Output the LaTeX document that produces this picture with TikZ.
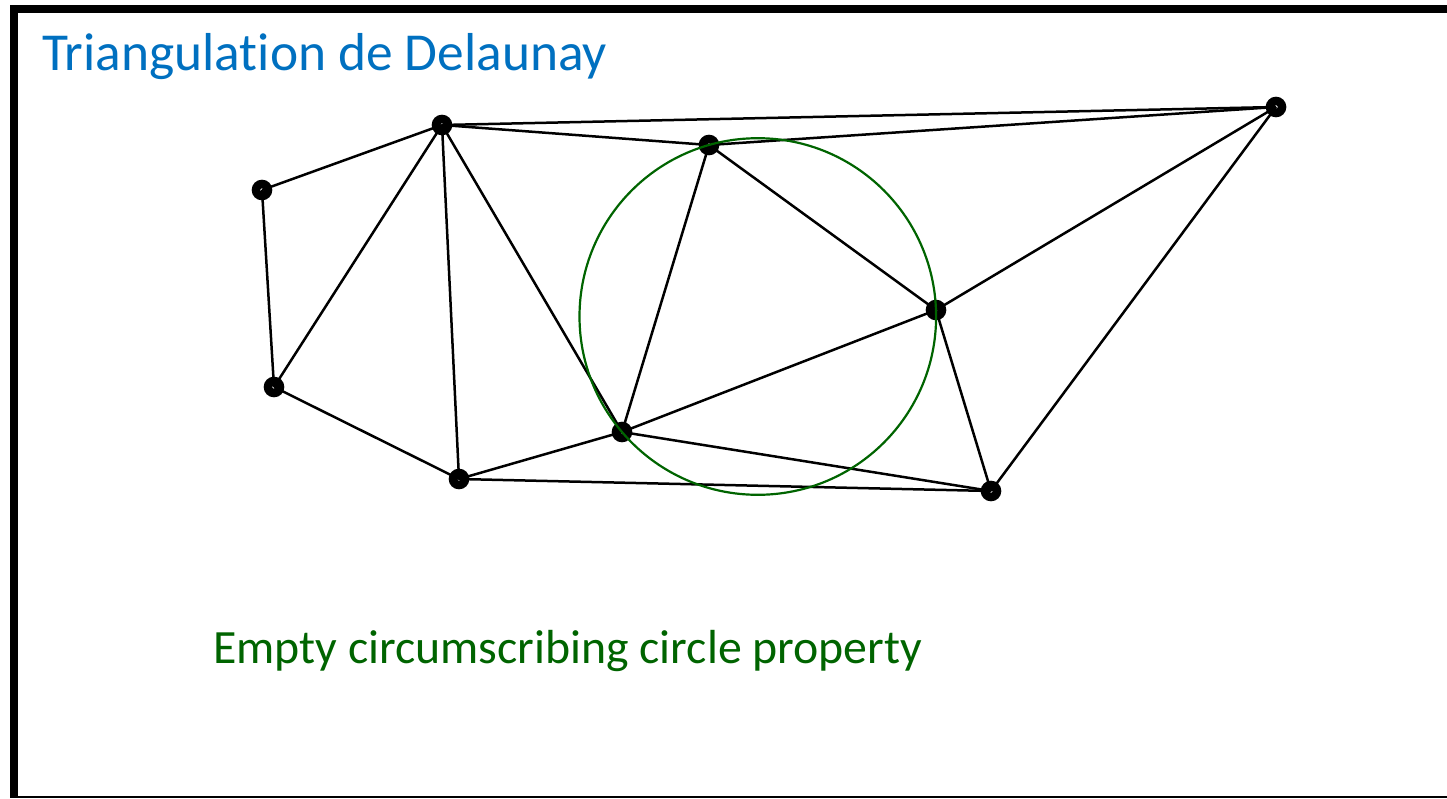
\documentclass[tikz,border=0pt]{standalone}
\usepackage{fontspec}
\setmainfont{Carlito}[Ligatures=NoCommon]
\usepackage{xcolor}
\usepackage{tikz}
\usetikzlibrary{positioning}
\definecolor{titleblue}{RGB}{0,112,192}
\definecolor{circgreen}{RGB}{0,100,0}

\begin{document}
\begin{tikzpicture}[
    x=1pt, y=-1pt,
    pt/.style={circle, draw, line width=8.5pt, minimum size=12pt, inner sep=0pt},
    edge/.style={line width=2.5pt},
    frame/.style={fill=black, draw=none}
]
\useasboundingbox (0,0) rectangle (1447,798);

% Frame
\fill [frame] (10,5) rectangle (1447,13);
\fill [frame] (10,5) rectangle (18,798);
\fill [frame] (10,796) rectangle (1447,798);

% Texts
\node (title) [anchor=base west, inner sep=0pt, text=titleblue, font=\fontsize{53.4}{60}\selectfont] at (42,70) {Triangulation de Delaunay};
\node (prop) [anchor=base west, inner sep=0pt, text=circgreen, font=\fontsize{47.8}{54}\selectfont] at (213,663) {Empty circumscribing circle property};

% Points
\node (a) [pt] at (442,125) {};
\node (b) [pt] at (262,190) {};
\node (c) [pt] at (274,387) {};
\node (d) [pt] at (459,479) {};
\node (e) [pt] at (622,432) {};
\node (f) [pt] at (709,145) {};
\node (g) [pt] at (936,310) {};
\node (h) [pt] at (991,491) {};
\node (i) [pt] at (1276,107) {};

% Edges
\draw [edge] (a.center) -- (i.center);
\draw [edge] (a.center) -- (f.center);
\draw [edge] (f.center) -- (i.center);
\draw [edge] (a.center) -- (b.center);
\draw [edge] (b.center) -- (c.center);
\draw [edge] (c.center) -- (a.center);
\draw [edge] (a.center) -- (d.center);
\draw [edge] (a.center) -- (e.center);
\draw [edge] (c.center) -- (d.center);
\draw [edge] (d.center) -- (e.center);
\draw [edge] (f.center) -- (e.center);
\draw [edge] (f.center) -- (g.center);
\draw [edge] (g.center) -- (i.center);
\draw [edge] (e.center) -- (g.center);
\draw [edge] (g.center) -- (h.center);
\draw [edge] (h.center) -- (i.center);
\draw [edge] (e.center) -- (h.center);
\draw [edge] (d.center) -- (h.center);

% Circumcircle of e, f, g
\coordinate (o) at (757.8,316.5);
\draw [circgreen, line width=2.2pt] (o) circle (178.3);

\end{tikzpicture}
\end{document}
